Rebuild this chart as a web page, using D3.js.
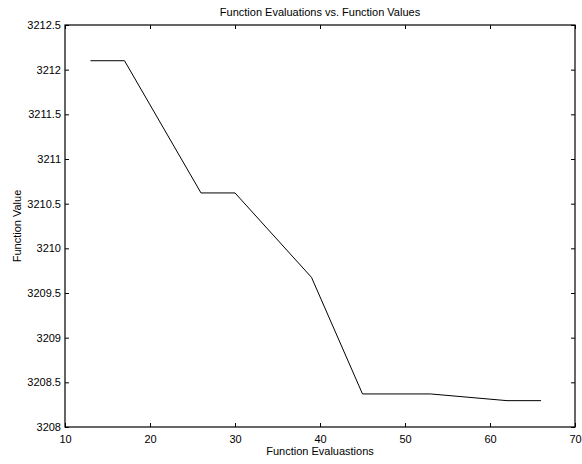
<!DOCTYPE html>
<html>
<head>
<meta charset="utf-8">
<script src="https://cdn.jsdelivr.net/npm/d3@7"></script>
<style>
  html, body { margin: 0; padding: 0; background: #fff; }
  svg { display: block; font-family: "Liberation Sans", Arial, Helvetica, sans-serif; }
</style>
</head>
<body>
<svg id="chart" width="582" height="464"></svg>
<script>
// Objective value after each function evaluation count
const evaluations = [13, 17, 26, 30, 39, 45, 53, 62, 66];
const fvalues = [3212.1, 3212.1, 3210.62, 3210.62, 3209.675, 3208.37, 3208.37, 3208.295, 3208.295];

const xTicks = [10, 20, 30, 40, 50, 60, 70];
const yTicks = [3208, 3208.5, 3209, 3209.5, 3210, 3210.5, 3211, 3211.5, 3212, 3212.5];

const titleText = "Function Evaluations vs. Function Values";
const xLabelText = "Function Evaluastions";
const yLabelText = "Function Value";

const svg = d3.select("#chart");
const W = 582, H = 464;
const m = { left: 65, right: W - 575, top: 25, bottom: H - 427 };
const pw = W - m.left - m.right, ph = H - m.top - m.bottom;

const x = d3.scaleLinear().domain([10, 70]).range([m.left, m.left + pw]);
const y = d3.scaleLinear().domain([3208, 3212.5]).range([m.top + ph, m.top]);

const fmt = d => String(+d.toFixed(1));
const tickLen = 4;

// Bottom axis with labels, ticks pointing inward
const gx = svg.append("g").attr("transform", `translate(0,${m.top + ph})`)
  .call(d3.axisBottom(x).tickValues(xTicks).tickFormat(fmt).tickSizeInner(-tickLen).tickSizeOuter(0).tickPadding(8));
// Left axis with labels
const gy = svg.append("g").attr("transform", `translate(${m.left},0)`)
  .call(d3.axisLeft(y).tickValues(yTicks).tickFormat(fmt).tickSizeInner(-tickLen).tickSizeOuter(0).tickPadding(4));
// Top and right axes: ticks only
const gt = svg.append("g").attr("transform", `translate(0,${m.top})`)
  .call(d3.axisTop(x).tickValues(xTicks).tickFormat("").tickSizeInner(-tickLen).tickSizeOuter(0));
const gr = svg.append("g").attr("transform", `translate(${m.left + pw},0)`)
  .call(d3.axisRight(y).tickValues(yTicks).tickFormat("").tickSizeInner(-tickLen).tickSizeOuter(0));

[gx, gy, gt, gr].forEach(g => {
  g.select(".domain").remove();
  g.selectAll(".tick line").attr("stroke", "#000").attr("stroke-width", 1);
  g.selectAll(".tick text").attr("fill", "#000").attr("font-size", 11)
    .attr("font-family", "Liberation Sans, Arial, sans-serif");
});

// Plot box
svg.append("rect")
  .attr("x", m.left).attr("y", m.top).attr("width", pw).attr("height", ph)
  .attr("fill", "none").attr("stroke", "#000").attr("stroke-width", 1.2);

// Data line
const line = d3.line().x((d, i) => x(evaluations[i])).y(d => y(d));
svg.append("path")
  .datum(fvalues)
  .attr("d", line)
  .attr("fill", "none")
  .attr("stroke", "#000")
  .attr("stroke-width", 1);

// Title and axis labels
svg.append("text")
  .attr("x", m.left + pw / 2).attr("y", 16)
  .attr("text-anchor", "middle").attr("font-size", 11).attr("fill", "#000")
  .text(titleText);

svg.append("text")
  .attr("x", m.left + pw / 2).attr("y", 455)
  .attr("text-anchor", "middle").attr("font-size", 11).attr("fill", "#000")
  .text(xLabelText);

svg.append("text")
  .attr("transform", `translate(21,${m.top + ph / 2}) rotate(-90)`)
  .attr("text-anchor", "middle").attr("font-size", 11).attr("fill", "#000")
  .text(yLabelText);
</script>
</body>
</html>
